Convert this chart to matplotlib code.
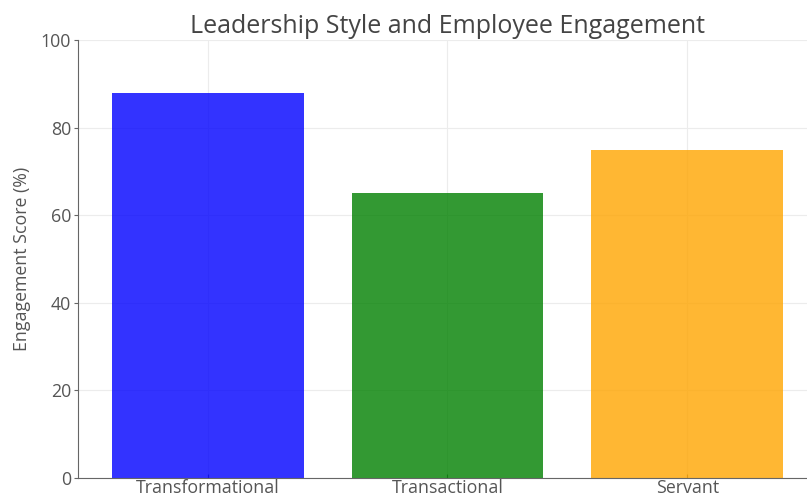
import matplotlib
matplotlib.use("Agg")
import matplotlib.pyplot as plt

categories = ["Transformational", "Transactional", "Servant"]
scores = [88, 65, 75]
colors = ["blue", "green", "orange"]
yticks = [0, 20, 40, 60, 80, 100]

plt.rcParams['font.family'] = ['Open Sans', 'DejaVu Sans']
text_color = "#555555"

fig = plt.figure(figsize=(8.07, 4.99), dpi=100)
ax = fig.add_axes([78/807, 21/499, 739/807, 438/499])
ax.bar(categories, scores, color=colors, alpha=0.8, width=0.8, zorder=2)
ax.set_ylim(0, 100)
ax.set_yticks(yticks)
ax.grid(True, color="#ececec", linewidth=0.8, zorder=0)
ax.set_axisbelow(True)
for s in ["top", "right"]:
    ax.spines[s].set_visible(False)
for s in ["left", "bottom"]:
    ax.spines[s].set_color("#666666")
ax.tick_params(axis="both", colors="#666666", labelcolor=text_color, labelsize=12.8, length=3)
ax.tick_params(axis="x", direction="in", pad=1)
ax.tick_params(axis="y", pad=2)
ax.set_ylabel("Engagement Score (%)", fontsize=12.8, color=text_color, labelpad=7)
ax.set_title("Leadership Style and Employee Engagement", fontsize=18, color="#444444", pad=5)
fig.savefig("out.png", dpi=100)
